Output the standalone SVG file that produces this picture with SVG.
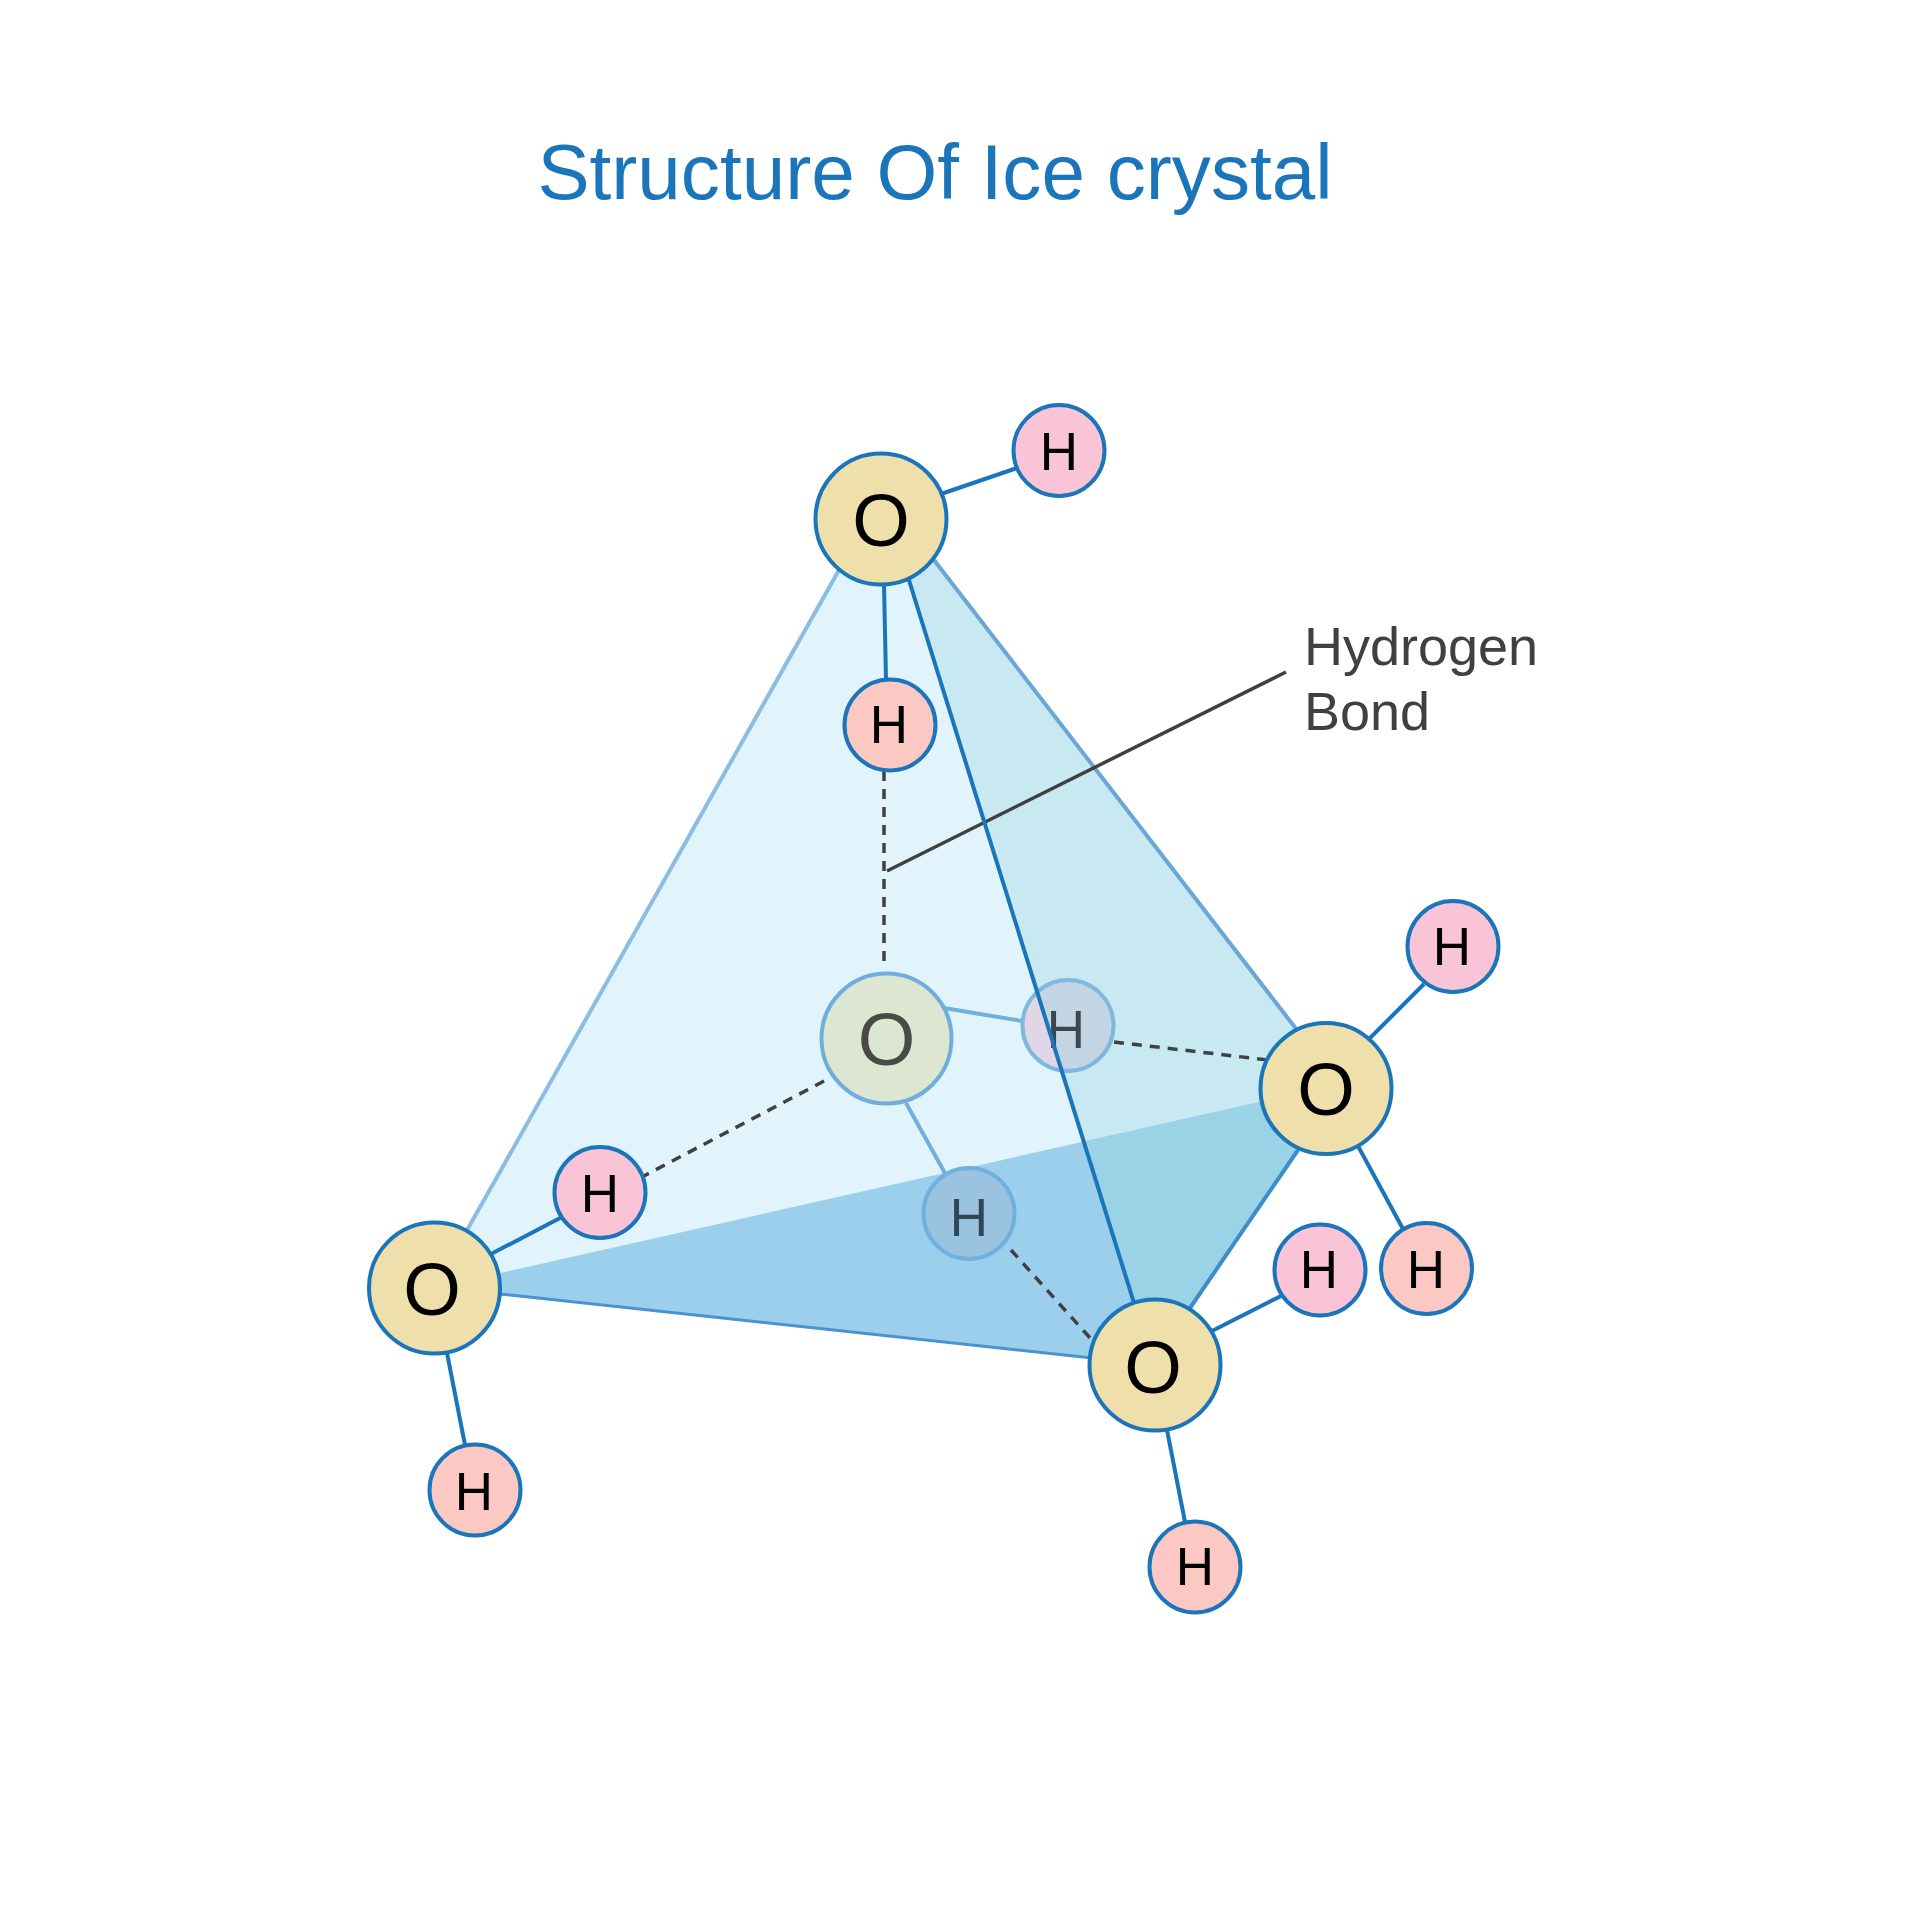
<svg xmlns="http://www.w3.org/2000/svg" width="1920" height="1920" viewBox="0 0 1920 1920">
<style>
text{font-family:"Liberation Sans",Arial,sans-serif}
.o{fill:#EFDFAB;stroke:#1B75BB;stroke-width:4}
.hp{fill:#F9C5D6;stroke:#1B75BB;stroke-width:4}
.hs{fill:#FBC8C3;stroke:#1B75BB;stroke-width:4}
.to{font-size:74px;text-anchor:middle;fill:#000}
.th{font-size:53px;text-anchor:middle;fill:#000}
.b{stroke:#1B75BB;stroke-width:4;fill:none}
.fb{stroke:#6FB0DE;stroke-width:4;fill:none}
.d{stroke:#404041;stroke-width:3.5;stroke-dasharray:10 8;fill:none}
</style>
<defs><clipPath id="cr"><polygon points="1027,960 1200,960 1200,1100 1071,1100"/></clipPath></defs>
<rect width="1920" height="1920" fill="#fff"/>
<text id="title" x="935" y="199" font-size="78.2" text-anchor="middle" fill="#1B75BB">Structure Of Ice crystal</text>
<g id="faces">
<polygon points="868,519 902,519 1342,1089 434,1288" fill="#E1F3FB"/>
<polygon points="890,519 902,519 1342,1089 1326,1087 1084,1141.5" fill="#C8E9F1"/>
<polygon points="434,1288 1326,1087 1340,1089 1151,1365" fill="#9BCFEC"/>
<polygon points="1084,1141.5 1326,1087 1340,1089 1153,1365" fill="#9AD2E6"/>
<line x1="466" y1="1232" x2="839" y2="570" stroke="#8BBDE3" stroke-width="4"/>
<line x1="934" y1="560" x2="1297" y2="1030" stroke="#6AA6D6" stroke-width="4"/>
<line x1="1298" y1="1150" x2="1190" y2="1308" stroke="#3D8CCB" stroke-width="4"/>
<line x1="500" y1="1294" x2="1092" y2="1358" stroke="#4A93D0" stroke-width="3"/>
</g>
<g id="connectors">
<line class="b" x1="941" y1="494" x2="1017" y2="468"/>
<line class="b" x1="884" y1="584" x2="886" y2="680"/>
<line class="d" x1="884" y1="771" x2="884" y2="964"/>
<line x1="887" y1="871" x2="1286" y2="672" stroke="#404041" stroke-width="3.5"/>
<line class="fb" x1="944" y1="1008" x2="1022" y2="1021"/>
<line class="fb" x1="906" y1="1103" x2="946" y2="1175"/>
<line class="d" x1="1114" y1="1042" x2="1268" y2="1060"/>
<line class="d" x1="1011" y1="1250" x2="1091" y2="1339"/>
<line class="d" x1="640" y1="1178" x2="826" y2="1080"/>
<line class="b" x1="491" y1="1254" x2="562" y2="1217"/>
<line class="b" x1="447" y1="1353" x2="465" y2="1445"/>
<line class="b" x1="1369" y1="1039" x2="1424" y2="984"/>
<line class="b" x1="1358" y1="1146" x2="1403" y2="1229"/>
<line class="b" x1="1210" y1="1332" x2="1283" y2="1295"/>
<line class="b" x1="1167" y1="1430" x2="1185" y2="1522"/>
</g>
<g id="o-center"><circle cx="886.5" cy="1038.5" r="65" fill="#DCE6D0" stroke="#6FAEDC" stroke-width="4"/><text class="to" x="886.5" y="1065" style="fill:#4A4A45">O</text></g>
<g id="h-center-right"><circle cx="1068" cy="1025.5" r="45.5" fill="#E0D6E5"/><circle cx="1068" cy="1025.5" r="45.5" fill="#C3D5E2" clip-path="url(#cr)"/><circle cx="1068" cy="1025.5" r="45.5" fill="none" stroke="#7FB8DE" stroke-width="4"/><text class="th" x="1066" y="1048" style="fill:#3A4650">H</text></g>
<g id="h-center-low"><circle cx="969" cy="1213.5" r="45.5" fill="#9AC3DF" stroke="#6FB0DE" stroke-width="4"/><text class="th" x="969" y="1236" style="fill:#2F4656">H</text></g>
<line id="edge-front" x1="908" y1="577" x2="1134" y2="1303" stroke="#1B75BB" stroke-width="4"/>
<g id="o-top"><circle class="o" cx="881" cy="519" r="65.5"/><text class="to" x="881" y="546">O</text></g>
<g id="h-top"><circle class="hp" cx="1059" cy="450.5" r="45.5"/><text class="th" x="1059" y="470">H</text></g>
<g id="h-top2"><circle class="hs" cx="890" cy="725" r="45.5"/><text class="th" x="889" y="743">H</text></g>
<g id="o-right"><circle class="o" cx="1326" cy="1088.5" r="65.5"/><text class="to" x="1326" y="1115">O</text></g>
<g id="h-right1"><circle class="hp" cx="1453" cy="946.5" r="45.5"/><text class="th" x="1452" y="965">H</text></g>
<g id="h-right2"><circle class="hs" cx="1426.5" cy="1268.5" r="45.5"/><text class="th" x="1426" y="1288">H</text></g>
<g id="o-bottom"><circle class="o" cx="1155" cy="1365" r="65.5"/><text class="to" x="1153" y="1393">O</text></g>
<g id="h-bottom1"><circle class="hp" cx="1320" cy="1270" r="45.5"/><text class="th" x="1319" y="1288">H</text></g>
<g id="h-bottom2"><circle class="hs" cx="1195" cy="1567" r="45.5"/><text class="th" x="1195" y="1585">H</text></g>
<g id="o-left"><circle class="o" cx="434.5" cy="1288" r="65.5"/><text class="to" x="432" y="1315">O</text></g>
<g id="h-left1"><circle class="hp" cx="600" cy="1192.5" r="45.5"/><text class="th" x="600" y="1212">H</text></g>
<g id="h-left2"><circle class="hs" cx="475" cy="1490" r="45.5"/><text class="th" x="474" y="1510">H</text></g>
<g id="label" font-size="54" fill="#404041"><text x="1304" y="665">Hydrogen</text><text x="1304" y="730">Bond</text></g>
</svg>
